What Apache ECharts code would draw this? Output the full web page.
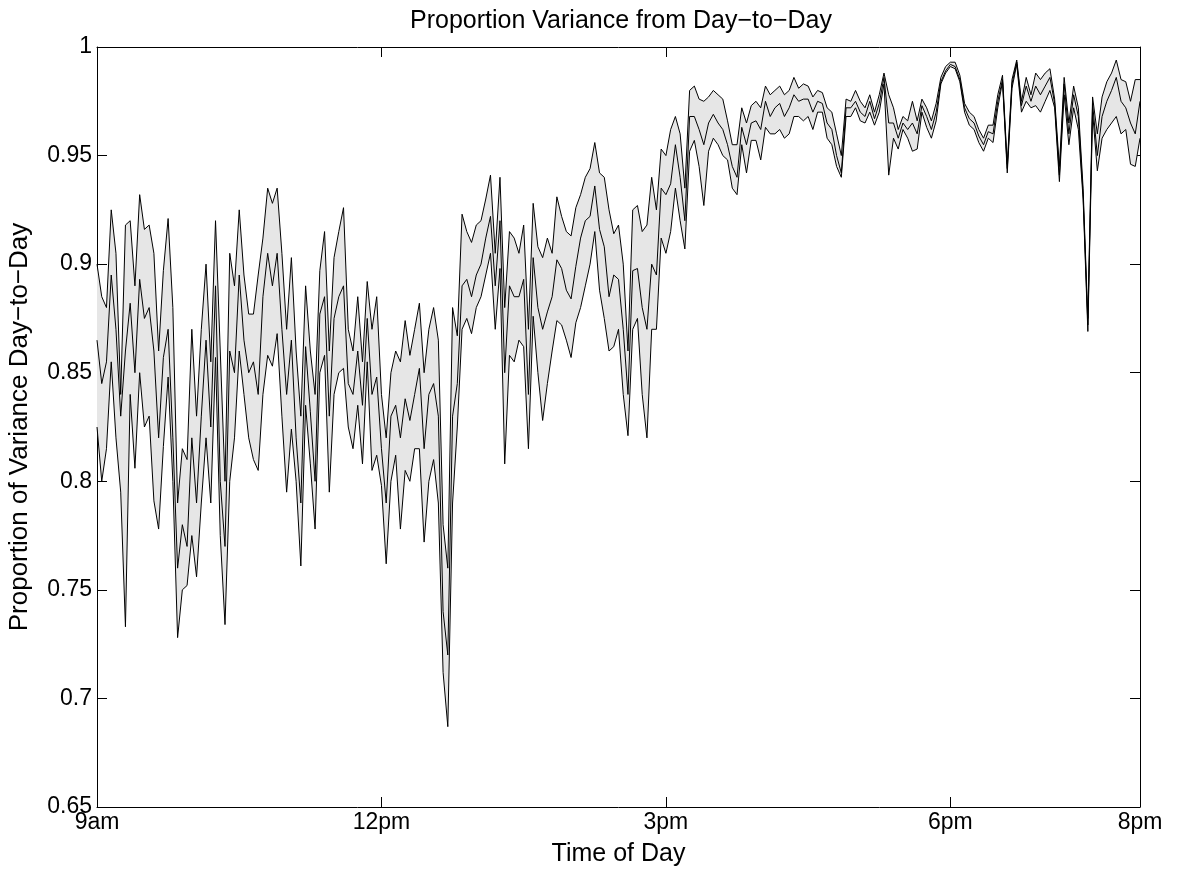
<!DOCTYPE html>
<html>
<head>
<meta charset="utf-8">
<script src="https://cdn.jsdelivr.net/npm/echarts@6/dist/echarts.min.js"></script>
<style>html,body{margin:0;padding:0;background:#fff}#chart{width:1181px;height:873px}</style>
</head>
<body>
<div id="chart"></div>
<script>
// Sampling step of the readings (minutes after 9am)
const STEP_MIN = 3;
// Tick positions (minutes after 9am) and their labels
const tickMinutes = [0, 180, 360, 540, 660];
const tickLabels = ['9am', '12pm', '3pm', '6pm', '8pm'];

// Upper bound of the band
const upper = [
0.900,0.885,0.880,0.925,0.905,0.840,0.918,0.920,0.890,0.932,
0.916,0.918,0.905,0.860,0.897,0.921,0.880,0.790,0.815,0.810,
0.870,0.830,0.870,0.900,0.855,0.920,0.860,0.800,0.905,0.890,
0.925,0.895,0.877,0.877,0.895,0.912,0.935,0.928,0.935,0.905,
0.870,0.903,0.860,0.830,0.890,0.860,0.840,0.897,0.915,0.860,
0.903,0.915,0.926,0.870,0.860,0.885,0.855,0.892,0.870,0.885,
0.840,0.820,0.850,0.860,0.855,0.874,0.858,0.870,0.882,0.850,
0.870,0.880,0.865,0.780,0.760,0.880,0.867,0.923,0.915,0.910,
0.918,0.920,0.930,0.941,0.905,0.940,0.880,0.915,0.912,0.905,
0.918,0.870,0.928,0.908,0.903,0.912,0.905,0.931,0.922,0.915,
0.913,0.926,0.932,0.940,0.944,0.956,0.942,0.940,0.925,0.914,
0.918,0.900,0.860,0.925,0.927,0.915,0.918,0.940,0.925,0.953,
0.950,0.962,0.968,0.960,0.935,0.980,0.982,0.976,0.975,0.977,
0.980,0.978,0.976,0.966,0.955,0.955,0.972,0.965,0.973,0.975,
0.972,0.982,0.978,0.980,0.982,0.978,0.980,0.986,0.981,0.983,
0.982,0.977,0.980,0.979,0.972,0.970,0.960,0.950,0.976,0.975,
0.980,0.975,0.972,0.978,0.970,0.978,0.988,0.978,0.972,0.962,
0.968,0.966,0.975,0.966,0.976,0.972,0.966,0.974,0.986,0.991,
0.993,0.993,0.987,0.974,0.970,0.968,0.962,0.958,0.964,0.964,
0.978,0.987,0.946,0.985,0.994,0.975,0.986,0.978,0.988,0.985,
0.988,0.990,0.976,0.945,0.986,0.965,0.982,0.972,0.935,0.875,
0.977,0.960,0.977,0.984,0.988,0.994,0.985,0.984,0.975,0.985,
0.985
];
// Central estimate
const middle = [
0.865,0.845,0.855,0.895,0.870,0.830,0.860,0.882,0.850,0.893,
0.875,0.880,0.860,0.820,0.857,0.870,0.820,0.760,0.780,0.770,
0.820,0.790,0.830,0.865,0.825,0.890,0.800,0.770,0.860,0.850,
0.895,0.865,0.850,0.855,0.840,0.885,0.905,0.890,0.905,0.870,
0.840,0.865,0.820,0.790,0.862,0.832,0.800,0.877,0.885,0.830,
0.875,0.885,0.890,0.845,0.840,0.860,0.835,0.875,0.840,0.848,
0.815,0.790,0.830,0.835,0.820,0.838,0.828,0.840,0.852,0.815,
0.840,0.845,0.830,0.740,0.720,0.830,0.845,0.890,0.893,0.885,
0.895,0.900,0.912,0.922,0.890,0.920,0.850,0.890,0.885,0.885,
0.893,0.840,0.903,0.880,0.870,0.878,0.885,0.902,0.898,0.888,
0.884,0.899,0.912,0.920,0.922,0.936,0.916,0.908,0.885,0.895,
0.893,0.870,0.840,0.897,0.898,0.880,0.870,0.900,0.895,0.935,
0.932,0.937,0.955,0.940,0.920,0.968,0.968,0.962,0.955,0.965,
0.969,0.965,0.962,0.955,0.945,0.940,0.963,0.955,0.965,0.966,
0.962,0.975,0.968,0.972,0.974,0.968,0.972,0.978,0.975,0.976,
0.976,0.970,0.975,0.974,0.965,0.962,0.950,0.942,0.972,0.972,
0.975,0.970,0.968,0.975,0.967,0.974,0.986,0.965,0.965,0.958,
0.965,0.962,0.965,0.960,0.973,0.968,0.962,0.970,0.984,0.989,
0.992,0.991,0.985,0.972,0.967,0.965,0.959,0.955,0.961,0.960,
0.975,0.985,0.944,0.983,0.993,0.973,0.982,0.975,0.982,0.978,
0.982,0.986,0.974,0.941,0.983,0.960,0.978,0.968,0.932,0.872,
0.974,0.950,0.968,0.975,0.980,0.986,0.975,0.972,0.965,0.960,
0.975
];
// Lower bound of the band
const lower = [
0.825,0.800,0.815,0.855,0.820,0.795,0.733,0.840,0.806,0.850,
0.825,0.830,0.791,0.778,0.816,0.848,0.800,0.728,0.750,0.752,
0.775,0.756,0.790,0.820,0.790,0.857,0.775,0.734,0.800,0.820,
0.860,0.840,0.820,0.810,0.805,0.840,0.858,0.853,0.868,0.830,
0.795,0.824,0.800,0.761,0.835,0.808,0.778,0.850,0.858,0.795,
0.840,0.850,0.852,0.825,0.815,0.835,0.808,0.855,0.805,0.812,
0.798,0.762,0.800,0.812,0.778,0.805,0.800,0.815,0.815,0.772,
0.800,0.810,0.790,0.712,0.687,0.790,0.825,0.870,0.875,0.868,
0.880,0.885,0.895,0.905,0.870,0.898,0.808,0.858,0.855,0.865,
0.862,0.815,0.876,0.850,0.828,0.845,0.860,0.874,0.872,0.865,
0.857,0.873,0.880,0.890,0.900,0.915,0.888,0.875,0.860,0.862,
0.870,0.840,0.821,0.870,0.875,0.840,0.820,0.870,0.870,0.912,
0.905,0.915,0.935,0.920,0.907,0.952,0.957,0.945,0.927,0.952,
0.958,0.955,0.950,0.948,0.935,0.932,0.955,0.942,0.957,0.957,
0.948,0.963,0.960,0.960,0.962,0.958,0.960,0.968,0.968,0.966,
0.968,0.962,0.970,0.970,0.958,0.955,0.945,0.940,0.968,0.968,
0.972,0.966,0.965,0.970,0.964,0.970,0.983,0.941,0.958,0.953,
0.962,0.958,0.952,0.953,0.970,0.963,0.958,0.966,0.983,0.988,
0.991,0.990,0.984,0.970,0.964,0.962,0.956,0.952,0.958,0.956,
0.972,0.984,0.942,0.981,0.992,0.970,0.975,0.972,0.973,0.970,
0.975,0.980,0.972,0.938,0.978,0.955,0.972,0.962,0.930,0.869,
0.970,0.943,0.958,0.962,0.965,0.968,0.960,0.962,0.946,0.945,
0.958
];

const minutes = upper.map((_, i) => i * STEP_MIN);
const toPairs = arr => arr.map((v, i) => [minutes[i], v]);

const FONT = 'Liberation Sans, Arial, Helvetica, sans-serif';
const FS = 23;
const MINUS = '\u2212';

const chart = echarts.init(document.getElementById('chart'), null, {renderer: 'canvas'});

const xBase = {
  type: 'value', min: 0, max: 660,
  splitLine: {show: false},
  axisLine: {show: true, onZero: false, lineStyle: {color: '#000', width: 1}},
  axisTick: {show: true, inside: true, length: 10, customValues: tickMinutes, lineStyle: {color: '#000'}},
};
const yBase = {
  type: 'value', min: 0.65, max: 1, interval: 0.05,
  splitLine: {show: false},
  axisLine: {show: true, onZero: false, lineStyle: {color: '#000', width: 1}},
  axisTick: {show: true, inside: true, length: 10, lineStyle: {color: '#000'}},
};

const lineSeries = (name, arr) => ({
  name, type: 'line', data: toPairs(arr), showSymbol: false, symbol: 'none',
  lineStyle: {color: '#000', width: 1}, z: 5, animation: false, silent: true
});

chart.setOption({
  animation: false,
  backgroundColor: '#fff',
  title: {
    text: 'Proportion Variance from Day' + MINUS + 'to' + MINUS + 'Day',
    left: 405, top: 4,
    textStyle: {fontFamily: FONT, fontSize: 25, fontWeight: 'normal', color: '#000'}
  },
  grid: {left: 97, right: 41, top: 47, bottom: 66, containLabel: false, outerBoundsMode: 'none'},
  xAxis: [
    Object.assign({}, xBase, {
      position: 'bottom',
      axisLabel: {
        customValues: tickMinutes, color: '#000', fontFamily: FONT, fontSize: FS, margin: 4,
        formatter: v => tickLabels[tickMinutes.indexOf(v)] || ''
      },
      name: 'Time of Day', nameLocation: 'middle', nameGap: 35,
      nameTextStyle: {fontFamily: FONT, fontSize: 25, color: '#000'}
    }),
    Object.assign({}, xBase, {position: 'top', axisLabel: {show: false}})
  ],
  yAxis: [
    Object.assign({}, yBase, {
      position: 'left',
      axisLabel: {
        color: '#000', fontFamily: FONT, fontSize: FS, margin: 5,
        formatter: v => String(+v.toFixed(2))
      },
      name: 'Proportion of Variance Day' + MINUS + 'to' + MINUS + 'Day',
      nameLocation: 'middle', nameGap: 64, nameRotate: 90,
      nameTextStyle: {fontFamily: FONT, fontSize: 26, color: '#000'}
    }),
    Object.assign({}, yBase, {position: 'right', axisLabel: {show: false}})
  ],
  series: [
    {
      type: 'custom', name: 'band', z: 1, silent: true,
      data: [[0, 0.9]],
      renderItem: function (params, api) {
        const pts = [];
        for (let i = 0; i < minutes.length; i++) pts.push(api.coord([minutes[i], upper[i]]));
        for (let i = minutes.length - 1; i >= 0; i--) pts.push(api.coord([minutes[i], lower[i]]));
        return {type: 'polygon', shape: {points: pts}, style: {fill: '#e6e6e6', stroke: null}};
      }
    },
    lineSeries('upper', upper),
    lineSeries('middle', middle),
    lineSeries('lower', lower)
  ]
});
</script>
</body>
</html>
